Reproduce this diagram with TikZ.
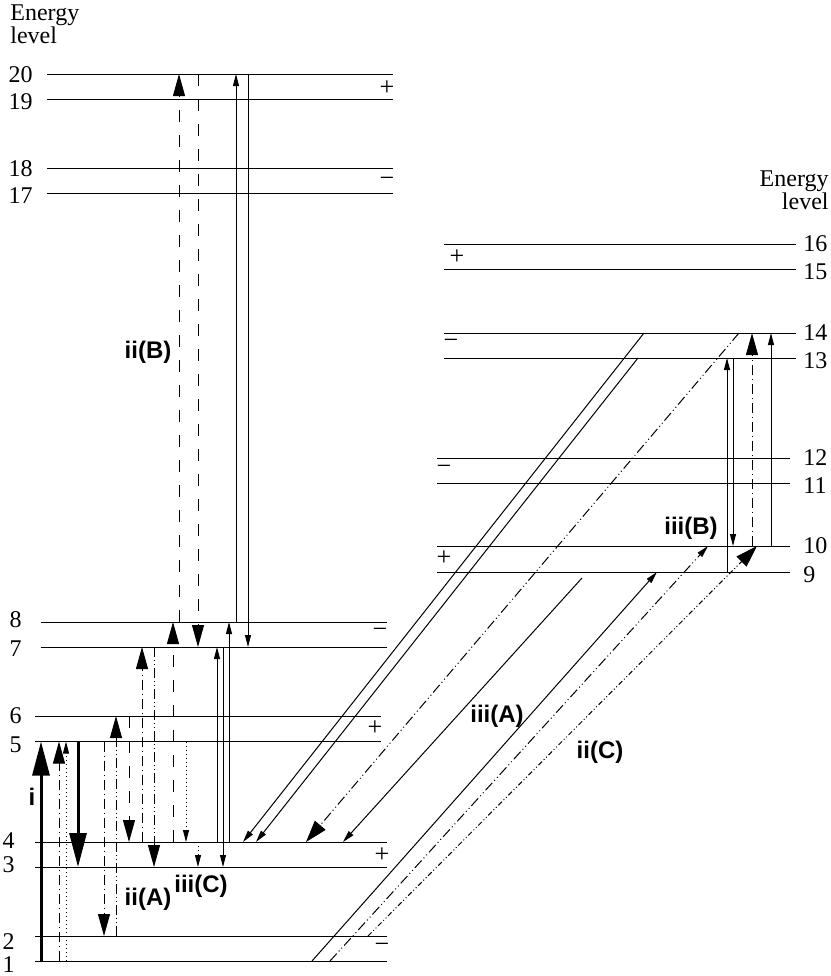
\documentclass[tikz,border=0pt]{standalone}
\usepackage{fontspec}
\setmainfont{Liberation Serif}
\setsansfont{Liberation Sans}
\usetikzlibrary{arrows.meta}

\tikzset{
    level/.style={line width=0.5pt},
    fine/.style={line width=0.5pt},
    heavy/.style={line width=1.5pt},
    num/.style={inner sep=0pt, font=\fontsize{12}{14}\selectfont},
    sign/.style={inner sep=0pt, font=\fontsize{13}{14}\selectfont},
    tag/.style={inner sep=0pt, font=\sffamily\bfseries\fontsize{12}{14}\selectfont},
    bigtip/.style={-{Triangle[length=17pt,width=8.5pt]}},
    midtip/.style={-{Triangle[length=11pt,width=6pt]}},
    widetip/.style={-{Triangle[length=11pt,width=7pt]}},
    smalltip/.style={-{Triangle[length=6pt,width=3pt]}},
    longdash/.style={line width=0.5pt, dash pattern=on 6pt off 6.5pt},
    dotline/.style={line width=0.5pt, dash pattern=on 0.5pt off 1.5pt},
    dashdotline/.style={line width=0.5pt, dash pattern=on 5pt off 2pt on 0.5pt off 2pt},
    dashdotdotline/.style={line width=0.5pt, dash pattern=on 5pt off 1.5pt on 0.5pt off 1.5pt on 0.5pt off 1.5pt}
}

\begin{document}
\begin{tikzpicture}[x=0.5pt, y=-0.5pt]
\useasboundingbox (0,0) rectangle (831,976);

% left column levels
\draw[level] (47,74) coordinate (l20) -- (393,74);
\draw[level] (47,99) coordinate (l19) -- (393,99);
\draw[level] (47,168.5) coordinate (l18) -- (393,168.5);
\draw[level] (47,193) coordinate (l17) -- (393,193);
\draw[level] (41,622) coordinate (l8) -- (387,622);
\draw[level] (41,647) coordinate (l7) -- (387,647);
\draw[level] (35,716) coordinate (l6) -- (381,716);
\draw[level] (35,741.5) coordinate (l5) -- (381,741.5);
\draw[level] (35,842) coordinate (l4) -- (387,842);
\draw[level] (35,867) coordinate (l3) -- (387,867);
\draw[level] (35,936) coordinate (l2) -- (387,936);
\draw[level] (35,961) coordinate (l1) -- (387,961);

% right column levels
\draw[level] (444,244) coordinate (l16) -- (796,244);
\draw[level] (444,269) coordinate (l15) -- (796,269);
\draw[level] (444,333) coordinate (l14) -- (796,333);
\draw[level] (444,358) coordinate (l13) -- (796,358);
\draw[level] (437,458) coordinate (l12) -- (790,458);
\draw[level] (437,483) coordinate (l11) -- (790,483);
\draw[level] (437,546) coordinate (l10) -- (790,546);
\draw[level] (437,572) coordinate (l9) -- (790,572);

% headings and level numbers
\node[num, anchor=north west, align=left, font=\fontsize{12}{10.5}\selectfont] (headl) at (10,4) {Energy\\level};
\node[num, anchor=north east, align=right, font=\fontsize{12}{10.5}\selectfont] (headr) at (829,170) {Energy\\level};

\node[num, anchor=east] (n20) at (33,75) {20};
\node[num, anchor=east] (n19) at (33,102) {19};
\node[num, anchor=east] (n18) at (33,169) {18};
\node[num, anchor=east] (n17) at (33,196) {17};
\node[num, anchor=east] (n8) at (22,620) {8};
\node[num, anchor=east] (n7) at (22,649) {7};
\node[num, anchor=east] (n6) at (22,716) {6};
\node[num, anchor=east] (n5) at (22,745) {5};
\node[num, anchor=east] (n4) at (15,841) {4};
\node[num, anchor=east] (n3) at (15,865) {3};
\node[num, anchor=east] (n2) at (15,942) {2};
\node[num, anchor=east] (n1) at (15,965) {1};

\node[num, anchor=west] (n16) at (803,244) {16};
\node[num, anchor=west] (n15) at (803,272) {15};
\node[num, anchor=west] (n14) at (803,333) {14};
\node[num, anchor=west] (n13) at (803,361) {13};
\node[num, anchor=west] (n12) at (803,458) {12};
\node[num, anchor=west] (n11) at (803,486) {11};
\node[num, anchor=west] (n10) at (803,546) {10};
\node[num, anchor=west] (n9) at (803,575) {9};

% parity signs
\node[sign] (s20) at (387,88) {+};
\node[sign] (s18) at (387,182) {−};
\node[sign] (s8) at (380,633) {−};
\node[sign] (s6) at (375,728) {+};
\node[sign] (s4) at (382,855) {+};
\node[sign] (s2) at (382,948) {−};
\node[sign] (s16) at (457,257) {+};
\node[sign] (s14) at (451,344) {−};
\node[sign] (s12) at (444,470) {−};
\node[sign] (s10) at (444,558) {+};

% transitions, left column
\draw[heavy, bigtip] (41,0 |- l1) -- (41,0 |- l5);
\draw[dashdotline, midtip] (59,0 |- l1) -- (59,0 |- l5);
\draw[dotline, smalltip] (66,0 |- l1) -- (66,0 |- l5);
\draw[heavy, bigtip] (78,0 |- l5) -- (78,0 |- l3);
\draw[dashdotline, midtip] (104,0 |- l5) -- (104,0 |- l2);
\draw[dashdotdotline, midtip] (116,0 |- l2) -- (116,0 |- l6);
\draw[longdash, midtip] (129,0 |- l6) -- (129,0 |- l4);
\draw[dashdotline, midtip] (142,0 |- l4) -- (142,0 |- l7);
\draw[dashdotdotline, midtip] (154,0 |- l7) -- (154,0 |- l3);
\draw[longdash, midtip] (173,0 |- l4) -- (173,0 |- l8);
\draw[longdash, midtip] (179,0 |- l8) -- (179,0 |- l20);
\draw[longdash, midtip] (198,0 |- l20) -- (198,0 |- l7);
\draw[dotline, smalltip] (186,0 |- l5) -- (186,0 |- l4);
\draw[dotline, smalltip] (198,0 |- l4) -- (198,0 |- l3);
\draw[fine, smalltip] (217,0 |- l4) -- (217,0 |- l7);
\draw[fine, smalltip] (223,0 |- l7) -- (223,0 |- l3);
\draw[fine, smalltip] (229,0 |- l4) -- (229,0 |- l8);
\draw[fine, smalltip] (236,0 |- l8) -- (236,0 |- l20);
\draw[fine, smalltip] (248,0 |- l20) -- (248,0 |- l7);

% transitions between the columns
\coordinate (below9) at (582,578);
\draw[fine, smalltip] (644,0 |- l14) -- (243,0 |- l4);
\draw[fine, smalltip] (638,0 |- l13) -- (256,0 |- l4);
\draw[dashdotdotline, widetip] (739,0 |- l14) -- (306,0 |- l4);
\draw[fine, smalltip] (below9) -- (343,0 |- l4);
\draw[fine, smalltip] (312,0 |- l1) -- (657,0 |- l9);
\draw[dashdotdotline, smalltip] (330,0 |- l1) -- (708,0 |- l10);
\draw[dashdotdotline, dash pattern=on 2.5pt off 1.2pt on 0.5pt off 1.2pt on 0.5pt off 1.2pt, widetip] (368,0 |- l2) -- (757,0 |- l10);

% transitions, right column
\draw[fine, smalltip] (727,0 |- l9) -- (727,0 |- l13);
\draw[fine, smalltip] (733,0 |- l13) -- (733,0 |- l10);
\draw[dashdotline, midtip] (752,0 |- l10) -- (752,0 |- l14);
\draw[fine, smalltip] (771,0 |- l10) -- (771,0 |- l14);

% group labels
\node[tag] (ti) at (32,797) {i};
\node[tag] (tiiB) at (148,352) {ii(B)};
\node[tag] (tiiA) at (148,899) {ii(A)};
\node[tag] (tiiiC) at (201,886) {iii(C)};
\node[tag] (tiiiA) at (497,716) {iii(A)};
\node[tag] (tiiC) at (600,752) {ii(C)};
\node[tag] (tiiiB) at (691,528) {iii(B)};

\end{tikzpicture}
\end{document}
